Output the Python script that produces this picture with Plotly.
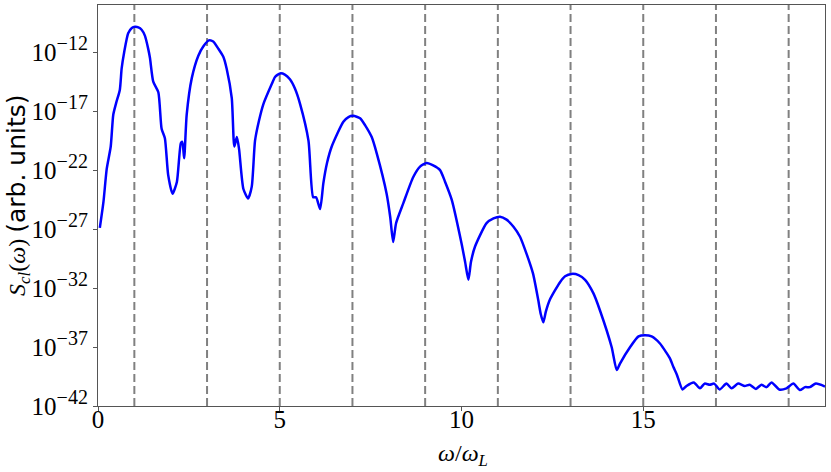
import plotly.graph_objects as go

# harmonic order axis and log10 of the spectrum
omega = [0.05, 0.15, 0.24, 0.35, 0.42, 0.50, 0.60, 0.65, 0.72, 0.83, 0.93, 1.02, 1.11,
         1.20, 1.29, 1.38, 1.43, 1.52, 1.66, 1.75, 1.84, 1.93, 2.05, 2.17, 2.28, 2.32,
         2.37, 2.44, 2.58, 2.76, 2.90, 3.05, 3.17, 3.31, 3.45, 3.54, 3.68, 3.75, 3.82,
         3.88, 4.00, 4.13, 4.23, 4.32, 4.43, 4.55, 4.78, 4.87, 5.01, 5.14, 5.28, 5.42,
         5.56, 5.79, 5.92, 6.00, 6.11, 6.20, 6.30, 6.43, 6.75, 6.89, 7.02, 7.21, 7.35,
         7.53, 7.67, 7.94, 8.04, 8.12, 8.20, 8.40, 8.67, 8.86, 9.04, 9.22, 9.41, 9.55,
         9.73, 10.00, 10.10, 10.19, 10.26, 10.37, 10.69, 10.88, 11.06, 11.24, 11.43,
         11.61, 11.79, 11.97, 12.11, 12.18, 12.25, 12.32, 12.43, 12.71, 12.85, 13.03,
         13.22, 13.40, 13.63, 13.81, 14.13, 14.27, 14.36, 14.64, 14.87, 15.05, 15.23,
         15.46, 15.64, 15.74, 15.83, 15.92, 16.08, 16.19, 16.39, 16.56, 16.69, 16.83,
         16.95, 17.10, 17.29, 17.43, 17.61, 17.79, 17.93, 18.10, 18.25, 18.39, 18.53,
         18.74, 18.94, 19.13, 19.31, 19.45, 19.58, 19.75, 20.00]
log_s = [-26.9, -24.7, -21.9, -20.0, -17.3, -16.3, -15.2, -13.4, -12.0, -10.4, -9.95,
         -9.85, -9.9, -10.1, -10.6, -11.7, -12.5, -14.5, -15.4, -18.5, -19.3, -22.4,
         -24.0, -23.0, -19.7, -19.6, -21.0, -17.3, -14.2, -12.3, -11.5, -11.0, -11.1,
         -11.7, -12.4, -13.4, -15.9, -20.0, -19.2, -20.2, -23.6, -24.4, -23.4, -19.5,
         -17.8, -16.4, -14.7, -14.1, -13.8, -13.9, -14.3, -15.1, -16.4, -19.5, -24.3,
         -24.3, -25.3, -23.1, -21.4, -20.0, -17.9, -17.5, -17.4, -17.6, -18.2, -19.2,
         -20.6, -24.0, -26.0, -28.1, -26.5, -24.8, -22.6, -21.7, -21.4, -21.6, -22.0,
         -23.0, -24.5, -28.2, -29.8, -31.3, -29.8, -28.5, -26.5, -26.1, -25.95, -26.2,
         -26.8, -27.65, -29.1, -30.8, -33.0, -34.2, -34.9, -34.0, -33.0, -31.5, -31.0,
         -30.8, -30.9, -31.3, -32.45, -33.9, -37.0, -38.95, -38.4, -37.0, -36.1, -36.0,
         -36.1, -36.7, -37.5, -38.0, -38.7, -39.3, -40.6, -40.3, -40.0, -40.5, -40.1,
         -40.2, -40.1, -40.6, -40.1, -40.5, -40.1, -40.3, -40.2, -40.55, -40.2, -40.4,
         -40.0, -40.6, -40.5, -40.1, -40.65, -40.4, -40.4, -40.1, -40.35]
odd_harmonics = [1, 3, 5, 7, 9, 11, 13, 15, 17, 19]
y_exponents = [-42, -37, -32, -27, -22, -17, -12]
x_ticks = [0, 5, 10, 15]

S = [10 ** e for e in log_s]

serif = "Liberation Serif"

fig = go.Figure()
for h in odd_harmonics:
    fig.add_vline(x=h, line=dict(color="#808080", width=2, dash="8px,4px"), layer="below")

fig.add_trace(go.Scatter(x=omega, y=S, mode="lines",
                         line=dict(color="#0000ff", width=2.5, shape="spline", smoothing=0.6),
                         showlegend=False))

fig.update_layout(
    width=831, height=472,
    margin=dict(l=98, r=6, t=5, b=66),
    plot_bgcolor="white", paper_bgcolor="white",
    font=dict(family=serif, size=25, color="black"),
)
fig.update_xaxes(
    range=[0, 20], tickvals=x_ticks, ticks="outside", ticklen=4, tickcolor="#555",
    ticklabelstandoff=-13,
    showline=True, linecolor="#555", linewidth=1.2, mirror=True, showgrid=False,
    zeroline=False, automargin=False,
)
fig.update_yaxes(
    type="log", range=[-42, -8],
    tickvals=[10 ** e for e in y_exponents],
    ticktext=["10<sup><span style='font-size:20px'>−%d</span></sup>" % (-e) for e in y_exponents],
    ticks="outside", ticklen=4, tickcolor="#555",
    showline=True, linecolor="#555", linewidth=1.2, mirror=True, showgrid=False,
    zeroline=False, automargin=False,
)

# axis titles
fig.add_annotation(x=0.502, y=-0.08, xref="paper", yref="paper", showarrow=False,
                   xanchor="center", yanchor="top",
                   text="<i>ω</i>/<i>ω<sub>L</sub></i>", font=dict(family=serif, size=24))
fig.add_annotation(x=-0.11, y=0.524, xref="paper", yref="paper", showarrow=False,
                   xanchor="center", yanchor="middle", textangle=-90,
                   text="<i>S<sub>cl</sub></i>(<i>ω</i>) "
                        "<span style='font-family:DejaVu Sans;font-size:25px'>(arb. units)</span>",
                   font=dict(family=serif, size=24))

fig.write_html("out.html", config={"displayModeBar": False},
               post_script="document.body.style.margin='0';")
